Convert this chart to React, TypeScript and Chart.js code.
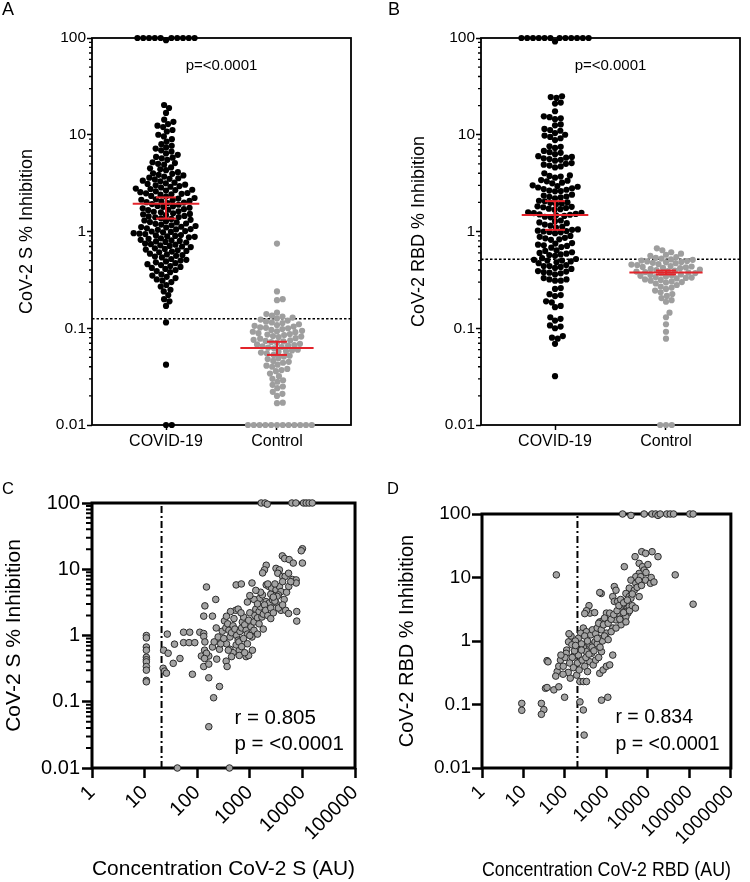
import React, { useEffect, useRef } from 'react';
import { Chart, registerables } from 'chart.js';
Chart.register(...registerables);

const FONT = "'Liberation Sans', Arial, Helvetica, sans-serif";

// ---------- shared axis labels ----------
const GROUPS = ['COVID-19', 'Control'];
const Y_TICKS = [0.01, 0.1, 1, 10, 100];
const Y_TICK_LABELS = ['0.01', '0.1', '1', '10', '100'];
const X_TICKS_C = [1, 10, 100, 1000, 10000, 100000];
const X_TICK_LABELS_C = ['1', '10', '100', '1000', '10000', '100000'];
const X_TICKS_D = [1, 10, 100, 1000, 10000, 100000, 1000000];
const X_TICK_LABELS_D = ['1', '10', '100', '1000', '10000', '100000', '1000000'];

// ---------- Panel A: CoV-2 S % inhibition ----------
const S_COVID = [
  100, 100, 100, 100, 100, 100, 100, 100, 100, 100, 95,
  20.3, 18.9, 16.8, 14.3, 13.6, 12.9, 12.4, 12.0, 11.2, 10.8, 10.0, 9.6, 9.0, 8.5, 8.0, 7.7, 7.4,
  7.2, 6.9, 6.7, 6.4, 6.2, 5.9, 5.8, 5.7, 5.5, 5.2, 5.1, 5.0, 4.9, 4.6, 4.5,
  4.4, 4.3, 4.1, 4.0, 3.95, 3.85, 3.8, 3.7, 3.6, 3.55, 3.5, 3.45, 3.35, 3.3, 3.2,
  3.15, 3.1, 3.05, 3.0, 2.95, 2.9, 2.85, 2.78, 2.75, 2.7, 2.68, 2.65, 2.6, 2.55, 2.5,
  2.48, 2.45, 2.42, 2.4, 2.33, 2.3, 2.22, 2.19, 2.15, 2.13, 2.11, 2.07, 2.05, 2.01,
  1.99, 1.97, 1.92, 1.89, 1.84, 1.82, 1.8, 1.76, 1.74, 1.7, 1.68, 1.66, 1.62, 1.6, 1.58,
  1.54, 1.52, 1.5, 1.48, 1.45, 1.43, 1.41, 1.4, 1.37, 1.35, 1.32, 1.3, 1.28, 1.25, 1.24,
  1.21, 1.2, 1.18, 1.16, 1.14, 1.12, 1.11, 1.1, 1.08, 1.06, 1.05, 1.04, 1.01, 1.0, 0.99, 0.98,
  0.96, 0.95, 0.94, 0.92, 0.91, 0.9, 0.89, 0.88, 0.87, 0.85, 0.84, 0.82, 0.81, 0.8, 0.79, 0.78, 0.77,
  0.75, 0.74, 0.73, 0.72, 0.71, 0.7, 0.69, 0.67, 0.66, 0.65, 0.64, 0.63, 0.62, 0.61,
  0.59, 0.58, 0.57, 0.56, 0.55, 0.54, 0.52, 0.51, 0.5, 0.49, 0.48, 0.47,
  0.46, 0.45, 0.44, 0.43, 0.42, 0.41, 0.4, 0.39, 0.38, 0.36, 0.35, 0.34, 0.33, 0.32, 0.31, 0.3,
  0.28, 0.27, 0.25, 0.24, 0.22, 0.2, 0.19, 0.17, 0.115, 0.042, 0.01, 0.01,
];
const S_CONTROL = [
  0.75, 0.24, 0.2, 0.195,
  0.145, 0.14, 0.135, 0.132,
  0.129, 0.126, 0.123, 0.12, 0.117, 0.115,
  0.113, 0.11, 0.108, 0.106, 0.104, 0.102, 0.101,
  0.1, 0.098, 0.096, 0.094, 0.093, 0.092, 0.091,
  0.089, 0.087, 0.086, 0.085, 0.083, 0.082, 0.081,
  0.079, 0.078, 0.076, 0.075, 0.074, 0.073, 0.072,
  0.071, 0.069, 0.068, 0.067, 0.066, 0.065, 0.064,
  0.063, 0.062, 0.06, 0.059, 0.058, 0.057,
  0.056, 0.055, 0.053, 0.052, 0.051,
  0.049, 0.048, 0.046, 0.045,
  0.044, 0.042, 0.041, 0.04,
  0.038, 0.037, 0.036,
  0.034, 0.032, 0.03, 0.029, 0.028, 0.026, 0.025, 0.024, 0.022, 0.021, 0.02,
  0.017, 0.0168,
  0.01, 0.01, 0.01, 0.01, 0.01, 0.01, 0.01, 0.01, 0.01, 0.01, 0.01, 0.01,
];
const S_MEAN = [1.93, 0.0625];
const S_CI_LOW = [1.36, 0.053];
const S_CI_HIGH = [2.25, 0.0725];
const S_CUTOFF = 0.1256;

// ---------- Panel B: CoV-2 RBD % inhibition ----------
const RBD_COVID = [
  100, 100, 100, 100, 100, 100, 100, 100, 100, 100, 100, 100, 92,
  25, 24.5, 24, 21.5, 21, 17.5, 15.5, 15.2, 14.8, 14.5, 12.8, 12.5, 11.5, 11.2, 11.0, 10.4, 10.0, 9.8, 9.5, 9.2, 8.8,
  7.6, 7.5, 7.3, 6.8, 6.6, 6.5, 6.3, 6.0, 5.9, 5.8, 5.7, 5.6, 5.5, 5.4, 5.1, 5.0, 4.9, 4.8, 4.7, 4.6,
  4.0, 3.8, 3.75, 3.7, 3.6, 3.4, 3.35, 3.3, 3.2, 3.15, 3.0, 2.95, 2.9, 2.85, 2.8, 2.75, 2.7, 2.65, 2.62, 2.6,
  2.4, 2.35, 2.3, 2.28, 2.25, 2.2, 2.08, 2.05, 2.0, 1.98, 1.95, 1.92, 1.82, 1.8, 1.78, 1.75, 1.72, 1.7, 1.68,
  1.58, 1.56, 1.55, 1.52, 1.5, 1.49, 1.47, 1.45, 1.42, 1.4,
  1.3, 1.28, 1.24, 1.22, 1.18, 1.15, 1.12, 1.1,
  1.05, 1.04, 1.02, 1.01, 1.0, 0.99, 0.98, 0.96,
  0.9, 0.88, 0.86, 0.85, 0.83, 0.82,
  0.76, 0.75, 0.73, 0.72, 0.71, 0.69, 0.68,
  0.64, 0.63, 0.61, 0.6, 0.59, 0.58, 0.57, 0.56,
  0.53, 0.52, 0.51, 0.5, 0.5, 0.49, 0.48, 0.47,
  0.45, 0.44, 0.44, 0.43, 0.42, 0.41,
  0.39, 0.385, 0.38, 0.375, 0.37, 0.36,
  0.33, 0.32, 0.32, 0.31, 0.31, 0.26, 0.255, 0.225, 0.22, 0.215, 0.19, 0.185, 0.17, 0.165,
  0.13, 0.125, 0.12, 0.107, 0.104, 0.1, 0.083, 0.08, 0.078, 0.069, 0.032,
];
const RBD_CONTROL = [
  0.67, 0.64, 0.61,
  0.59, 0.575, 0.56, 0.545, 0.535,
  0.525, 0.515, 0.51, 0.5, 0.495, 0.49, 0.485, 0.48, 0.475,
  0.47, 0.46, 0.455, 0.45, 0.44, 0.435, 0.43, 0.425, 0.422,
  0.418, 0.41, 0.405, 0.4, 0.395, 0.39, 0.385, 0.38, 0.375, 0.372,
  0.368, 0.36, 0.356, 0.352, 0.348, 0.342, 0.338, 0.334, 0.331,
  0.327, 0.32, 0.316, 0.31, 0.305, 0.3, 0.297,
  0.29, 0.28, 0.27, 0.263,
  0.255, 0.245, 0.235,
  0.226, 0.216,
  0.205, 0.195, 0.188,
  0.145, 0.13, 0.11, 0.092, 0.078,
  0.01, 0.01, 0.01,
];
const RBD_MEAN = [1.48, 0.376];
const RBD_CI_LOW = [1.04, 0.36];
const RBD_CI_HIGH = [2.06, 0.395];
const RBD_CUTOFF = 0.516;

// ---------- Panel C: concentration S (AU) vs % inhibition ----------
const C_POINTS: [number, number][] = [
  [10.8, 1.0], [10.8, 0.92], [10.8, 0.67], [10.8, 0.6], [10.8, 0.47], [10.8, 0.43], [10.8, 0.4], [10.8, 0.34], [10.8, 0.3], [10.8, 0.21], [10.8, 0.2],
  [1650, 100], [1950, 100], [2150, 96], [6300, 100], [7500, 100], [10500, 100], [11800, 100], [13400, 100], [15400, 100],
  [42, 0.01], [410, 0.01],
  [23, 0.6], [28, 0.54], [22.5, 0.32], [24, 0.29], [26, 0.27], [27, 1.05], [37, 0.74], [35, 0.38], [47, 0.45], [81, 0.26],
  [55, 1.12], [72, 1.12], [55, 0.78], [70, 0.78], [90, 0.78], [112, 1.12], [133, 1.07], [120, 0.49], [150, 0.49], [166, 0.49],
  [133, 0.34], [166, 0.37], [166, 0.23], [133, 1.96], [195, 1.96], [140, 2.8], [150, 5.4], [225, 3.5], [133, 0.97], [140, 0.8],
  [138, 0.6], [150, 0.54], [138, 0.45], [235, 0.44], [265, 0.62], [195, 0.67], [355, 0.41], [370, 0.34], [265, 0.17], [205, 0.115],
  [166, 0.042], [265, 0.88], [300, 1.16], [330, 1.66],
  [630, 0.6], [630, 0.5], [850, 0.48], [950, 0.5], [1120, 0.6],
  [10000, 20.4], [9500, 19], [10000, 12.4], [4150, 15.9], [4600, 14.5], [5600, 14], [6700, 12.4], [2050, 11.5], [1900, 9.8], [1750, 8.8],
  [3150, 10.3], [3650, 9.8], [3400, 8.7], [4200, 7.8], [4700, 7.8], [5450, 8.7], [6450, 7.0], [7600, 6.9], [7600, 6.2], [550, 5.8],
  [690, 6.0], [1100, 6.2], [2050, 5.8], [2300, 5.5], [2600, 5.2], [3150, 4.9], [3650, 5.5], [3900, 4.6], [3500, 4.1], [3300, 3.9],
  [1520, 3.6], [1740, 4.1], [2040, 3.25], [2340, 3.1], [2700, 3.45], [3150, 3.1], [3900, 2.4], [4800, 2.4], [5450, 2.15], [7800, 2.3], [7800, 1.65],
  [350, 1.3], [380, 1.5], [400, 1.2], [420, 0.95], [450, 1.1], [480, 1.4], [500, 1.8], [520, 1.25], [560, 1.0], [600, 0.85],
  [650, 1.15], [700, 1.3], [720, 1.6], [760, 1.9], [800, 1.45], [850, 1.2], [900, 1.05], [950, 1.7], [1000, 2.2], [1050, 1.35],
  [1100, 0.95], [1200, 1.6], [1250, 2.0], [1300, 2.5], [1400, 1.85], [1500, 2.3], [1600, 2.7], [1700, 1.9], [1800, 2.1], [1900, 2.9],
  [2000, 2.4], [2200, 2.0], [2500, 2.6], [2800, 2.2], [3000, 3.3], [360, 0.75], [420, 0.62], [480, 0.55], [550, 0.72], [620, 0.8],
  [700, 0.68], [760, 0.9], [800, 0.55], [900, 0.75], [450, 0.48], [390, 0.6], [280, 0.75], [250, 0.95], [230, 1.3], [210, 0.8],
  [320, 0.9], [540, 2.4], [600, 2.5], [680, 2.2], [430, 2.3], [360, 1.95], [1200, 3.5], [1400, 3.0], [1000, 4.0], [900, 3.2],
  [1600, 4.5], [1300, 4.8], [2200, 6.0], [2500, 4.2], [2800, 3.8], [4500, 3.5], [5000, 4.5], [5500, 5.5], [6000, 6.5], [4200, 6.5],
  [3000, 6.0], [1200, 1.2], [1500, 1.5], [1800, 1.25], [2500, 1.8], [3500, 2.6], [4200, 2.9], [1000, 1.0], [1400, 1.05],
];
const C_CUTOFF = 21;

// ---------- Panel D: concentration RBD (AU) vs % inhibition ----------
const D_POINTS: [number, number][] = [
  [2450, 100], [3900, 95], [8100, 100], [12600, 100], [15400, 100], [17500, 95], [19800, 100], [28500, 100], [34500, 100], [41500, 100], [102000, 100], [123000, 100],
  [62, 11], [45500, 11], [123000, 3.8],
  [7100, 25.5], [4900, 21.3], [8800, 24], [12600, 25.5], [17500, 21.3], [2700, 14.8], [6150, 16.7], [7400, 14.8], [8100, 13.1], [6150, 11.6],
  [5100, 10.3], [6700, 10.3], [8800, 9.1], [11500, 8.1], [3900, 9.1], [5100, 8.1], [3550, 6.8], [4700, 6.3], [2950, 5.6], [3550, 5.0],
  [3900, 4.7], [6150, 5.0], [750, 5.6], [690, 5.8], [1550, 7.2], [1700, 6.3], [1420, 5.0], [1550, 4.2], [1860, 4.2],
  [2950, 3.7], [2500, 3.5], [3100, 3.2], [3550, 3.5], [2300, 3.1], [2700, 2.9], [3300, 2.75], [2100, 2.6], [2500, 2.4], [2950, 2.4],
  [1420, 2.25], [1700, 2.15], [380, 3.6], [400, 2.75], [520, 2.8], [690, 2.0], [830, 2.1], [1000, 2.75], [1200, 2.75], [330, 3.0], [300, 2.7],
  [277, 1.6], [240, 1.33], [330, 1.4], [210, 1.1], [178, 1.0], [122, 0.97], [110, 0.72], [147, 0.87], [195, 0.72], [277, 0.8],
  [400, 0.87], [530, 0.97], [690, 1.1], [1000, 1.33], [1420, 1.6], [2250, 1.8], [2950, 2.0],
  [37, 0.49], [65, 0.33], [71, 0.4], [91, 0.4], [134, 0.26], [78, 0.5], [107, 0.64], [162, 0.58], [210, 0.6], [330, 0.68],
  [400, 0.47], [480, 0.42], [690, 0.31], [830, 0.35], [1000, 0.4], [1200, 0.42], [1420, 0.6], [760, 0.68], [440, 0.64], [192, 0.29],
  [230, 0.23], [277, 0.23], [330, 0.23], [230, 0.11], [277, 0.082], [290, 0.033], [760, 0.117], [1080, 0.13], [9.1, 0.104], [9.1, 0.081],
  [27, 0.104], [31, 0.083], [27, 0.07], [34, 0.18], [37, 0.185], [54, 0.17], [71, 0.19], [98, 0.13], [39, 0.47],
  [150, 0.55], [170, 0.7], [250, 0.9], [300, 1.2], [350, 1.0], [420, 1.25], [460, 1.5], [550, 1.3], [600, 1.6], [650, 1.9],
  [750, 1.5], [850, 1.8], [900, 2.3], [1100, 1.9], [1300, 2.2], [1500, 2.6], [1800, 3.0], [2000, 3.6], [2200, 4.5], [2600, 4.0],
  [3200, 4.4], [4200, 5.5], [5500, 7.0], [6000, 9.0], [7000, 7.5], [9000, 12], [10000, 16], [12000, 10], [14000, 8.5], [200, 0.45],
  [260, 0.5], [320, 0.55], [380, 0.62], [450, 0.8], [500, 0.7], [600, 0.9], [700, 0.8], [800, 1.0], [900, 1.2], [1100, 1.05],
  [130, 0.45], [160, 0.38], [120, 0.32], [90, 0.3], [60, 0.28], [100, 0.55], [80, 0.6], [220, 0.35], [300, 0.4], [350, 0.33],
  [550, 0.5], [650, 0.55], [250, 0.72], [180, 0.85], [140, 1.2], [125, 1.3], [600, 1.1], [1300, 1.4], [1700, 1.6], [2100, 2.2],
  [2600, 2.8], [3600, 3.0], [4200, 3.6], [5000, 3.3],
];
const D_CUTOFF = 200;

// ---------- helpers ----------
const RED = '#e3242b';

function beeswarm(py: number[], d: number): number[] {
  const order = py.map((_, i) => i).sort((a, b) => py[b] - py[a]);
  const placed: { x: number; y: number }[] = [];
  const out: number[] = new Array(py.length).fill(0);
  for (const i of order) {
    const y = py[i];
    const near = placed.filter((p) => Math.abs(p.y - y) < d);
    const cands = [0];
    for (const p of near) {
      const dx = Math.sqrt(d * d - (p.y - y) * (p.y - y));
      cands.push(p.x + dx, p.x - dx);
    }
    cands.sort((a, b) => Math.abs(a) - Math.abs(b));
    let best = 0;
    for (const c of cands) {
      if (near.every((p) => (p.x - c) * (p.x - c) + (p.y - y) * (p.y - y) >= d * d - 1e-6)) {
        best = c;
        break;
      }
    }
    placed.push({ x: best, y });
    out[i] = best;
  }
  return out;
}

type Txt = { text: string; x: number; y: number; align: CanvasTextAlign; size: number };

function decoPlugin(frame: number, minorLen: number, minorWidth: number, texts: Txt[]) {
  return {
    id: 'deco',
    beforeDatasetsDraw(chart: any) {
      const { ctx, chartArea: a } = chart;
      ctx.save();
      ctx.strokeStyle = '#000';
      ctx.lineWidth = frame;
      ctx.strokeRect(a.left, a.top, a.right - a.left, a.bottom - a.top);
      if (minorLen > 0) {
        const ys = chart.scales.y;
        ctx.lineWidth = minorWidth;
        ctx.beginPath();
        for (let e = -2; e < 2; e++) {
          for (let k = 2; k <= 9; k++) {
            const p = ys.getPixelForValue(k * Math.pow(10, e));
            ctx.moveTo(a.left - minorLen, p);
            ctx.lineTo(a.left, p);
          }
        }
        ctx.stroke();
      }
      ctx.restore();
    },
    afterDatasetsDraw(chart: any) {
      const { ctx } = chart;
      ctx.save();
      ctx.fillStyle = '#000';
      ctx.textBaseline = 'middle';
      for (const t of texts) {
        ctx.font = `${t.size}px ${FONT}`;
        ctx.textAlign = t.align;
        ctx.fillText(t.text, chart.scales.x.getPixelForValue(t.x), chart.scales.y.getPixelForValue(t.y));
      }
      ctx.restore();
    },
  };
}

function seg(x1: number, y1: number, x2: number, y2: number, color: string, width: number, order: number, dash: number[] = []) {
  return {
    data: [{ x: x1, y: y1 }, { x: x2, y: y2 }],
    showLine: true,
    borderColor: color,
    borderWidth: width,
    borderDash: dash,
    pointRadius: 0,
    clip: false,
    order,
  };
}

const X_MIN = -0.667;
const X_MAX = 1.667;

function buildSwarm(
  canvas: HTMLCanvasElement,
  groups: number[][],
  colors: string[],
  mean: number[],
  lo: number[],
  hi: number[],
  cutoff: number,
  title: string,
  yWidth: number,
  padRight: number,
  titlePad: number,
) {
  const datasets: any[] = [];
  groups.forEach((vals, g) => {
    const hw = g === 0 ? 0.3 : 0.33;
    const cw = 0.09;
    datasets.push(seg(g - hw, mean[g], g + hw, mean[g], RED, 2, 0));
    datasets.push(seg(g, lo[g], g, hi[g], RED, 2, 0));
    datasets.push(seg(g - cw, lo[g], g + cw, lo[g], RED, 2, 0));
    datasets.push(seg(g - cw, hi[g], g + cw, hi[g], RED, 2, 0));
  });
  const swarmIdx: number[] = [];
  groups.forEach((vals, g) => {
    swarmIdx.push(datasets.length);
    datasets.push({
      data: vals.map((v) => ({ x: g, y: v })),
      pointRadius: 3.1,
      pointBackgroundColor: colors[g],
      pointBorderWidth: 0,
      borderColor: colors[g],
      clip: false,
      order: 2 - g * 0.5,
    });
  });
  datasets.push(seg(X_MIN, cutoff, X_MAX, cutoff, '#000', 1.5, 5, [2.5, 2]));

  const tickFont = { family: FONT, size: 15.5 };
  const chart = new Chart(canvas, {
    type: 'scatter',
    data: { datasets },
    plugins: [decoPlugin(1.8, 3, 1.3, [{ text: 'p=<0.0001', x: 0.5, y: 51, align: 'center', size: 15 }]) as any],
    options: {
      animation: false,
      responsive: false,
      devicePixelRatio: 1,
      layout: { padding: { top: 38, right: padRight, left: 0, bottom: 0 } },
      plugins: { legend: { display: false }, tooltip: { enabled: false } },
      scales: {
        x: {
          type: 'linear',
          min: X_MIN,
          max: X_MAX,
          afterBuildTicks: (s: any) => {
            s.ticks = GROUPS.map((_, i) => ({ value: i }));
          },
          afterFit: (s: any) => {
            s.height = 35;
          },
          ticks: {
            autoSkip: false,
            maxRotation: 0,
            padding: 2,
            color: '#000',
            font: { family: FONT, size: 16 },
            callback: (v: any) => GROUPS[Math.round(v)] ?? '',
          },
          grid: { display: true, drawOnChartArea: false, drawTicks: true, tickLength: 5, tickWidth: 1.5, tickColor: '#000' },
          border: { display: false },
        },
        y: {
          type: 'logarithmic',
          min: 0.01,
          max: 100,
          afterBuildTicks: (s: any) => {
            s.ticks = Y_TICKS.map((v) => ({ value: v }));
          },
          afterFit: (s: any) => {
            s.width = yWidth;
          },
          ticks: {
            autoSkip: false,
            padding: 1,
            color: '#000',
            font: tickFont,
            callback: (v: any) => Y_TICK_LABELS[Y_TICKS.indexOf(v)] ?? '',
          },
          grid: { display: true, drawOnChartArea: false, drawTicks: true, tickLength: 5, tickWidth: 1.5, tickColor: '#000' },
          border: { display: false },
          title: { display: true, text: title, color: '#000', font: { family: FONT, size: 18 }, padding: { top: titlePad, bottom: 0 } },
        },
      },
    } as any,
  });

  const xs: any = chart.scales.x;
  const ys: any = chart.scales.y;
  groups.forEach((vals, g) => {
    const py = vals.map((v) => ys.getPixelForValue(v));
    const off = beeswarm(py, 5.8);
    const cx = xs.getPixelForValue(g);
    (chart.data.datasets[swarmIdx[g]] as any).data = vals.map((v, i) => ({ x: xs.getValueForPixel(cx + off[i]), y: v }));
  });
  chart.update();
  return chart;
}

function buildScatter(
  canvas: HTMLCanvasElement,
  points: [number, number][],
  cutoff: number,
  xMax: number,
  xTicks: number[],
  xLabels: string[],
  xTitle: string,
  yTitle: string,
  opts: { yWidth: number; padTop: number; padRight: number; tickSize: number; titleSize: number; titlePad: number; minor: number; textSize: number; r: string; tx: number; ty1: number; ty2: number; tickPad: number },
) {
  const datasets: any[] = [
    {
      data: points.map(([x, y]) => ({ x, y })),
      pointRadius: 3.3,
      pointBackgroundColor: '#a3a3a3',
      pointBorderColor: '#2b2b2b',
      pointBorderWidth: 1,
      clip: false,
      order: 1,
    },
    seg(cutoff, 0.01, cutoff, 100, '#000', 2, 3, [7, 3, 2, 3]),
  ];
  const chart = new Chart(canvas, {
    type: 'scatter',
    data: { datasets },
    plugins: [
      decoPlugin(3, opts.minor, 2, [
        { text: opts.r, x: opts.tx, y: opts.ty1, align: 'left', size: opts.textSize },
        { text: 'p = <0.0001', x: opts.tx, y: opts.ty2, align: 'left', size: opts.textSize },
      ]) as any,
    ],
    options: {
      animation: false,
      responsive: false,
      devicePixelRatio: 1,
      layout: { padding: { top: opts.padTop, right: opts.padRight, left: 0, bottom: 0 } },
      plugins: { legend: { display: false }, tooltip: { enabled: false } },
      scales: {
        x: {
          type: 'logarithmic',
          min: 1,
          max: xMax,
          afterBuildTicks: (s: any) => {
            s.ticks = xTicks.map((v) => ({ value: v }));
          },
          afterFit: (s: any) => {
            s.height = 114;
          },
          ticks: {
            autoSkip: false,
            minRotation: 45,
            maxRotation: 45,
            padding: 3,
            color: '#000',
            font: { family: FONT, size: opts.tickSize },
            callback: (v: any) => xLabels[xTicks.indexOf(v)] ?? '',
          },
          grid: { display: true, drawOnChartArea: false, drawTicks: true, tickLength: 10, tickWidth: 2.5, tickColor: '#000' },
          border: { display: false },
          title: { display: true, text: xTitle, color: '#000', font: { family: FONT, size: opts.titleSize }, padding: { top: 0, bottom: 0 } },
        },
        y: {
          type: 'logarithmic',
          min: 0.01,
          max: 100,
          afterBuildTicks: (s: any) => {
            s.ticks = Y_TICKS.map((v) => ({ value: v }));
          },
          afterFit: (s: any) => {
            s.width = opts.yWidth;
          },
          ticks: {
            autoSkip: false,
            padding: opts.tickPad,
            color: '#000',
            font: { family: FONT, size: opts.tickSize },
            callback: (v: any) => Y_TICK_LABELS[Y_TICKS.indexOf(v)] ?? '',
          },
          grid: { display: true, drawOnChartArea: false, drawTicks: true, tickLength: 10, tickWidth: 2.5, tickColor: '#000' },
          border: { display: false },
          title: { display: true, text: yTitle, color: '#000', font: { family: FONT, size: opts.titleSize }, padding: { top: opts.titlePad, bottom: 0 } },
        },
      },
    } as any,
  });
  return chart;
}

function Panel({ left, top, width, height, build }: { left: number; top: number; width: number; height: number; build: (c: HTMLCanvasElement) => Chart }) {
  const ref = useRef<HTMLCanvasElement | null>(null);
  useEffect(() => {
    const chart = build(ref.current as HTMLCanvasElement);
    return () => chart.destroy();
  }, []);
  return <canvas ref={ref} width={width} height={height} style={{ position: 'absolute', left, top, width, height }} />;
}

const letterStyle = (left: number, top: number, size: number): React.CSSProperties => ({
  position: 'absolute',
  left,
  top,
  fontFamily: FONT,
  fontSize: size,
  lineHeight: `${size}px`,
  color: '#000',
});

export default function App() {
  return (
    <div style={{ position: 'absolute', left: 0, top: 0, width: 750, height: 882, background: '#fff', overflow: 'hidden' }}>
      <Panel
        left={0}
        top={0}
        width={375}
        height={460}
        build={(c) =>
          buildSwarm(c, [S_COVID, S_CONTROL], ['#000000', '#9e9e9e'], S_MEAN, S_CI_LOW, S_CI_HIGH, S_CUTOFF, 'CoV-2 S % Inhibition', 92, 24, 16)
        }
      />
      <Panel
        left={375}
        top={0}
        width={375}
        height={460}
        build={(c) =>
          buildSwarm(c, [RBD_COVID, RBD_CONTROL], ['#000000', '#9e9e9e'], RBD_MEAN, RBD_CI_LOW, RBD_CI_HIGH, RBD_CUTOFF, 'CoV-2 RBD % Inhibition', 106, 10, 33)
        }
      />
      <Panel
        left={0}
        top={455}
        width={375}
        height={427}
        build={(c) =>
          buildScatter(c, C_POINTS, C_CUTOFF, 100000, X_TICKS_C, X_TICK_LABELS_C, 'Concentration CoV-2 S (AU)', 'CoV-2 S % Inhibition', {
            yWidth: 92, padTop: 48, padRight: 19, tickSize: 20, titleSize: 21, titlePad: 1.5, minor: 6, textSize: 20.5,
            r: 'r = 0.805', tx: 510, ty1: 0.057, ty2: 0.0224, tickPad: 2,
          })
        }
      />
      <Panel
        left={375}
        top={455}
        width={375}
        height={427}
        build={(c) =>
          buildScatter(c, D_POINTS, D_CUTOFF, 1000000, X_TICKS_D, X_TICK_LABELS_D, 'Concentration CoV-2 RBD (AU)', 'CoV-2 RBD % Inhibition', {
            yWidth: 107, padTop: 59, padRight: 15, tickSize: 19, titleSize: 20, titlePad: 20, minor: 0, textSize: 19.5,
            r: 'r = 0.834', tx: 1650, ty1: 0.062, ty2: 0.023, tickPad: 1,
          })
        }
      />
      <div style={letterStyle(2, 0, 18)}>A</div>
      <div style={letterStyle(388, 0, 18)}>B</div>
      <div style={letterStyle(2, 480, 16.5)}>C</div>
      <div style={letterStyle(387, 480, 16.5)}>D</div>
    </div>
  );
}
